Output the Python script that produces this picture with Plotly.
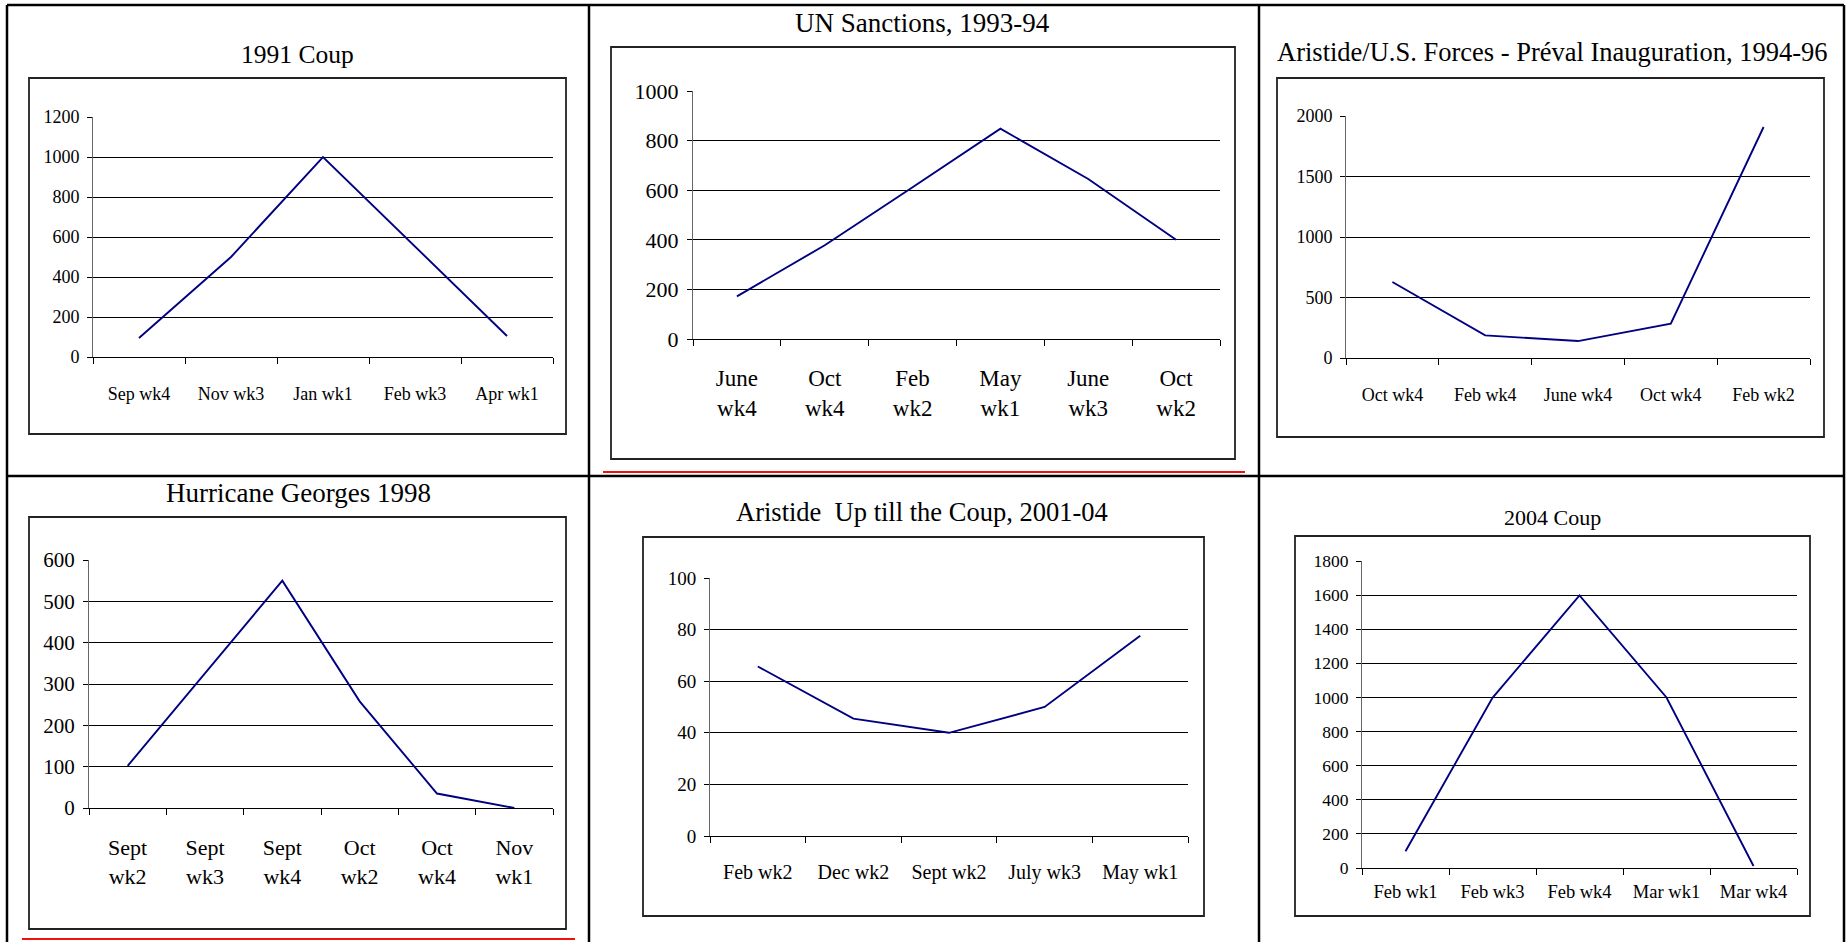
import plotly.graph_objects as go

W, H = 1847, 942

# ---------------- data ----------------
coup91_labels = ["Sep wk4", "Nov wk3", "Jan wk1", "Feb wk3", "Apr wk1"]
coup91_values = [95, 500, 1000, 550, 105]

un_labels = ["June<br>wk4", "Oct<br>wk4", "Feb<br>wk2", "May<br>wk1", "June<br>wk3", "Oct<br>wk2"]
un_values = [172, 378, 612, 848, 645, 400]

aristide94_labels = ["Oct wk4", "Feb wk4", "June wk4", "Oct wk4", "Feb wk2"]
aristide94_values = [628, 187, 140, 284, 1909]

georges_labels = ["Sept<br>wk2", "Sept<br>wk3", "Sept<br>wk4", "Oct<br>wk2", "Oct<br>wk4", "Nov<br>wk1"]
georges_values = [102, 326, 550, 258, 35, 0]

aristide01_labels = ["Feb wk2", "Dec wk2", "Sept wk2", "July wk3", "May wk1"]
aristide01_values = [65.7, 45.5, 40, 50, 77.6]

coup04_labels = ["Feb wk1", "Feb wk3", "Feb wk4", "Mar wk1", "Mar wk4"]
coup04_values = [98, 998, 1598, 1000, 12]

titles = ["1991 Coup", "UN Sanctions, 1993-94",
          "Aristide/U.S. Forces - Préval Inauguration, 1994-96",
          "Hurricane Georges 1998",
          "Aristide\u00a0\u00a0Up till the Coup, 2001-04", "2004 Coup"]

# ---------------- layout geometry (pixels) ----------------
FONT = "Liberation Serif"
panels = [
    dict(lab=coup91_labels, val=coup91_values, ymax=1200, dt=200, x0=93, x1=553, yb=357, yt=117, ys=18, xs=18, so=20),
    dict(lab=un_labels, val=un_values, ymax=1000, dt=200, x0=693, x1=1220, yb=339, yt=91, ys=22, xs=23, so=18),
    dict(lab=aristide94_labels, val=aristide94_values, ymax=2000, dt=500, x0=1346, x1=1810, yb=358, yt=116, ys=18, xs=18, so=20),
    dict(lab=georges_labels, val=georges_values, ymax=600, dt=100, x0=89, x1=553, yb=808, yt=560, ys=21, xs=22, so=20),
    dict(lab=aristide01_labels, val=aristide01_values, ymax=100, dt=20, x0=710, x1=1188, yb=836, yt=578, ys=19, xs=20, so=18),
    dict(lab=coup04_labels, val=coup04_values, ymax=1800, dt=200, x0=1362, x1=1797, yb=868, yt=561, ys=17.5, xs=18.5, so=7),
]
boxes = [(29, 78, 566, 434), (611, 47, 1235, 459), (1277, 78, 1824, 437),
         (29, 517, 566, 929), (643, 537, 1204, 916), (1295, 536, 1810, 916)]
title_pos = [(297, 55, 25.5), (922, 23, 27), (1552, 52, 26.5),
             (298, 493, 27), (922, 512, 26.5), (1552, 517, 22)]


def px(x):
    return x / W


def py(y):
    return 1 - y / H


fig = go.Figure()
layout = dict(width=W, height=H, autosize=False,
              margin=dict(l=0, r=0, t=0, b=0, pad=0, autoexpand=False),
              paper_bgcolor="white", plot_bgcolor="white", showlegend=False,
              font=dict(family=FONT, color="black"))

for i, p in enumerate(panels, start=1):
    n = len(p["lab"])
    xs = list(range(n))
    sfx = "" if i == 1 else str(i)
    fig.add_trace(go.Scatter(x=xs, y=p["val"], mode="lines",
                             line=dict(color="#000080", width=1.9),
                             xaxis="x" + sfx, yaxis="y" + sfx, hoverinfo="skip"))
    layout["xaxis" + sfx] = dict(
        domain=[px(p["x0"]), px(p["x1"])], anchor="y" + sfx, automargin=False,
        range=[-0.5, n - 0.5], tickvals=xs, ticktext=p["lab"],
        ticks="", showgrid=False, zeroline=False,
        showline=True, linecolor="black", linewidth=1,
        tickfont=dict(family=FONT, size=p["xs"], color="black"),
        ticklabelstandoff=p["so"],
        minor=dict(tickvals=[k - 0.5 for k in range(n + 1)], ticks="outside",
                   ticklen=6, tickcolor="black", tickwidth=1, showgrid=False),
    )
    layout["yaxis" + sfx] = dict(
        domain=[py(p["yb"]), py(p["yt"])], anchor="x" + sfx, automargin=False,
        range=[0, p["ymax"]], dtick=p["dt"], tick0=0,
        ticks="outside", ticklen=5, tickcolor="black",
        showgrid=True, gridcolor="black", gridwidth=1, zeroline=False,
        showline=True, linecolor="#666666", linewidth=1,
        tickfont=dict(family=FONT, size=p["ys"], color="black"),
        ticklabelstandoff=4,
    )

shapes = []
for (x0, y0, x1, y1) in boxes:
    shapes.append(dict(type="rect", xref="paper", yref="paper",
                       x0=px(x0), x1=px(x1), y0=py(y1), y1=py(y0),
                       line=dict(color="#222222", width=1.8), layer="below"))
TL = dict(color="black", width=2.5)
for (x0, y0, x1, y1) in [(7, 5, 1844, 5), (7, 476, 1844, 476),
                         (7, 5, 7, 942), (589, 5, 589, 942),
                         (1259, 5, 1259, 942), (1844, 5, 1844, 942)]:
    shapes.append(dict(type="line", xref="paper", yref="paper",
                       x0=px(x0), x1=px(x1), y0=py(y0), y1=py(y1), line=TL))
for (x0, y, x1) in [(603, 472, 1245), (22, 939, 575)]:
    shapes.append(dict(type="line", xref="paper", yref="paper",
                       x0=px(x0), x1=px(x1), y0=py(y), y1=py(y),
                       line=dict(color="#ee1111", width=2.2)))
layout["shapes"] = shapes

annotations = []
for t, (cx, cy, fs) in zip(titles, title_pos):
    annotations.append(dict(text=t, xref="paper", yref="paper", x=px(cx), y=py(cy),
                            xanchor="center", yanchor="middle", showarrow=False,
                            font=dict(family=FONT, size=fs, color="black")))
layout["annotations"] = annotations

fig.update_layout(**layout)
fig.write_html("out.html", config={"displayModeBar": False, "responsive": False},
               post_script="document.body.style.margin='0';document.body.style.overflow='hidden';")
